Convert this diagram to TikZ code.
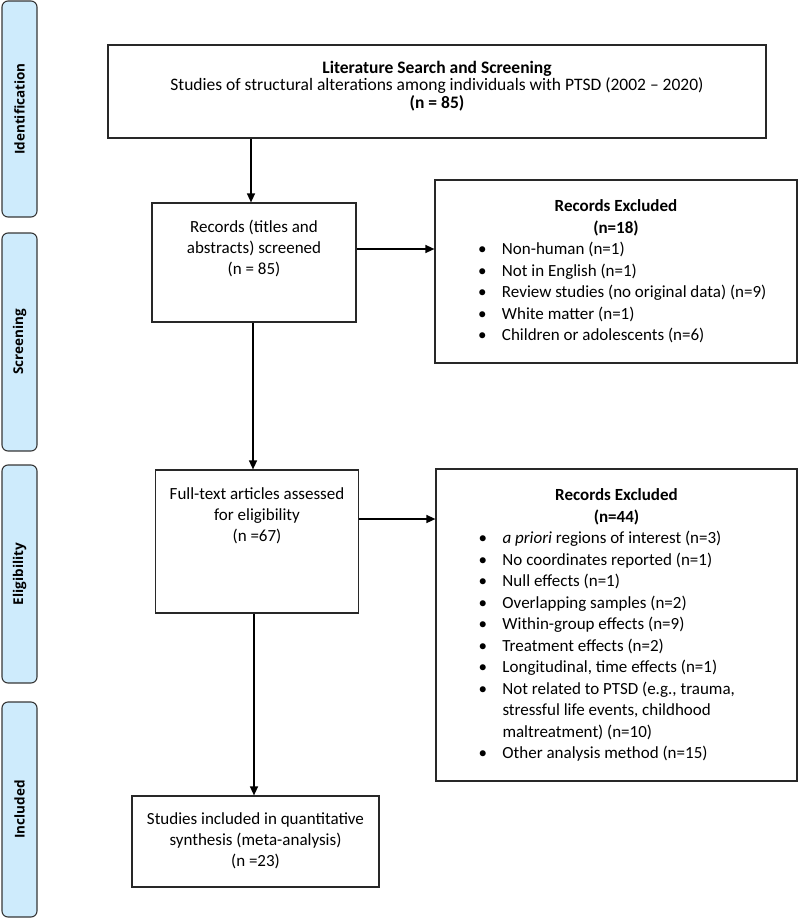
\documentclass[tikz,border=0pt]{standalone}
\usepackage{fontspec}
\setmainfont{Carlito}
\newfontfamily\tabfont{Open Sans}
\usetikzlibrary{arrows.meta,calc}
\definecolor{tabfill}{RGB}{206,235,252}
\definecolor{tabline}{RGB}{55,55,55}
\definecolor{boxline}{RGB}{40,40,40}
\newcommand{\blt}{\makebox[24pt][l]{\textbullet}}
\newcommand{\hng}{\hspace*{24pt}}
\begin{document}
\begin{tikzpicture}[x=1pt,y=-1pt,
  phase/.style={draw=tabline, line width=1.1pt, fill=tabfill, rounded corners=6pt,
    minimum width=35pt, inner sep=0pt},
  phasetext/.style={rotate=90, font=\tabfont\bfseries\fontsize{13.5}{16}\selectfont},
  box/.style={draw=boxline, line width=1.2pt, fill=white, inner sep=0pt},
  boxtext/.style={align=center, inner sep=0pt, font=\fontsize{17}{21}\selectfont},
  listbox/.style={box, font=\fontsize{17}{21.5}\selectfont},
  arr/.style={line width=1.4pt, -{Triangle[length=9pt,width=8pt]}}]
\useasboundingbox (0,0) rectangle (799,919);

% phase tabs
\node[phase, minimum height=216pt] (pid) at (19.5,109) {};
\node[phasetext] (tid) at (pid) {Identification};
\node[phase, minimum height=218pt] (psc) at (19.5,342) {};
\node[phasetext] (tsc) at (psc) {Screening};
\node[phase, minimum height=218pt] (pel) at (19.5,574) {};
\node[phasetext] (tel) at (pel) {Eligibility};
\node[phase, minimum height=215pt] (pin) at (19.5,809.5) {};
\node[phasetext] (tin) at (pin) {Included};

% main boxes
\node[box, minimum width=658pt, minimum height=93pt] (top) at (437,91.5) {};
\node[boxtext, font=\fontsize{17.5}{17.5}\selectfont] (topt) at (437,86)
  {\textbf{Literature Search and Screening}\\Studies of structural alterations among individuals with PTSD (2002 -- 2020)\\\textbf{(n = 85)}};
\node[box, minimum width=204pt, minimum height=119pt] (scr) at (254,262.5) {};
\node[boxtext] (scrt) at (254,248.5)
  {Records (titles and\\abstracts) screened\\(n = 85)};
\node[box, minimum width=203pt, minimum height=143pt] (ft) at (257,541.5) {};
\node[boxtext] (ftt) at (257,516)
  {Full-text articles assessed\\for eligibility\\(n =67)};
\node[box, minimum width=247pt, minimum height=91pt] (inc) at (255.5,841.5) {};
\node[boxtext] (inct) at (255.5,841)
  {Studies included in quantitative\\synthesis (meta-analysis)\\(n =23)};

\node[listbox, minimum width=362pt, minimum height=183pt] (ex1) at (616,271.5)
  {\begin{minipage}{340pt}\centering
   \textbf{Records Excluded}\\\textbf{(n=18)}\par
   \raggedright\leftskip=32pt
   \blt Non-human (n=1)\\
   \blt Not in English (n=1)\\
   \blt Review studies (no original data) (n=9)\\
   \blt White matter (n=1)\\
   \blt Children or adolescents (n=6)\par
   \end{minipage}};

\node[listbox, minimum width=361pt, minimum height=312pt] (ex2) at (616.5,625)
  {\begin{minipage}{340pt}\centering
   \textbf{Records Excluded}\\\textbf{(n=44)}\par
   \raggedright\leftskip=32pt
   \blt \textit{a priori} regions of interest (n=3)\\
   \blt No coordinates reported (n=1)\\
   \blt Null effects (n=1)\\
   \blt Overlapping samples (n=2)\\
   \blt Within-group effects (n=9)\\
   \blt Treatment effects (n=2)\\
   \blt Longitudinal, time effects (n=1)\\
   \blt Not related to PTSD (e.g., trauma,\\
   \hng stressful life events, childhood\\
   \hng maltreatment) (n=10)\\
   \blt Other analysis method (n=15)\par
   \end{minipage}};

% connectors
\draw[arr] (top.south -| 251,0) -- (scr.north -| 251,0);
\draw[arr] (scr.south -| 253,0) -- (ft.north -| 253,0);
\draw[arr] (ft.south -| 254,0) -- (inc.north -| 254,0);
\draw[arr] ([yshift=13.5pt]scr.east) -- ([yshift=13.5pt]scr.east -| ex1.west);
\draw[arr] ([yshift=22.5pt]ft.east) -- ([yshift=22.5pt]ft.east -| ex2.west);
\end{tikzpicture}
\end{document}
